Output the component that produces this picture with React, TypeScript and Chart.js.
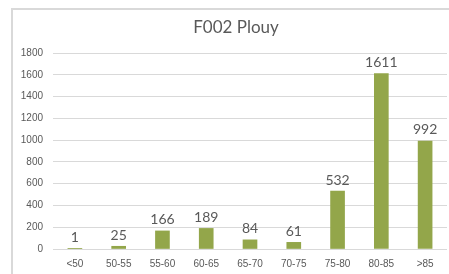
import React, { useEffect, useRef } from "react";
import { Chart, registerables } from "chart.js";

Chart.register(...registerables);

const title = "F002 Plouy";
const categories = ["<50", "50-55", "55-60", "60-65", "65-70", "70-75", "75-80", "80-85", ">85"];
const values = [1, 25, 166, 189, 84, 61, 532, 1611, 992];
const yTicks = [0, 200, 400, 600, 800, 1000, 1200, 1400, 1600, 1800];

const barColor = "#93a64a";
const textColor = "#595959";

const framePlugin = {
  id: "frame",
  beforeDraw(chart: any) {
    const ctx = chart.ctx;
    ctx.save();
    ctx.strokeStyle = "#d9d9d9";
    ctx.lineWidth = 2;
    ctx.beginPath();
    ctx.moveTo(12, 274);
    ctx.lineTo(12, 9);
    ctx.lineTo(449, 9);
    ctx.stroke();
    ctx.fillStyle = textColor;
    ctx.font = "17px Lato";
    ctx.textAlign = "center";
    ctx.textBaseline = "middle";
    ctx.fillText(title, 236, 28);
    ctx.restore();
  },
};

const labelPlugin = {
  id: "barLabels",
  afterDatasetsDraw(chart: any) {
    const ctx = chart.ctx;
    const meta = chart.getDatasetMeta(0);
    ctx.save();
    ctx.fillStyle = textColor;
    ctx.font = "14px Lato";
    ctx.textAlign = "center";
    ctx.textBaseline = "bottom";
    meta.data.forEach((bar: any, i: number) => {
      ctx.fillText(String(values[i]), bar.x, bar.y - 4);
    });
    ctx.restore();
  },
};

export default function App() {
  const ref = useRef<HTMLCanvasElement>(null);
  useEffect(() => {
    if (!ref.current) return;
    const chart = new Chart(ref.current, {
      type: "bar",
      data: {
        labels: categories,
        datasets: [
          {
            data: values,
            backgroundColor: barColor,
            barThickness: 14,
          },
        ],
      },
      plugins: [framePlugin, labelPlugin],
      options: {
        animation: false,
        responsive: false,
        devicePixelRatio: 1,
        layout: { padding: { top: 53, right: 2, left: 0, bottom: 0 } },
        plugins: {
          legend: { display: false },
          title: { display: false },
          tooltip: { enabled: false },
        },
        scales: {
          x: {
            grid: { display: false, drawTicks: false },
            border: { display: false },
            ticks: {
              color: textColor,
              font: { family: "Liberation Sans", size: 10 },
              padding: 9,
              maxRotation: 0,
              autoSkip: false,
            },
            afterFit(scale: any) {
              scale.height = 25;
            },
          },
          y: {
            min: 0,
            max: 1800,
            afterBuildTicks(scale: any) {
              scale.ticks = yTicks.map((v) => ({ value: v }));
            },
            grid: { color: "#d9d9d9", lineWidth: 1, drawTicks: false },
            border: { display: false },
            ticks: {
              color: textColor,
              font: { family: "Liberation Sans", size: 10 },
              padding: 10,
              callback: (v: any) => String(v),
            },
            afterFit(scale: any) {
              scale.width = 53;
            },
          },
        },
      },
    });
    return () => chart.destroy();
  }, []);
  return (
    <div style={{ position: "fixed", left: 0, top: 0, width: 449, height: 274, background: "#fff" }}>
      <canvas ref={ref} width={449} height={274} style={{ width: 449, height: 274 }} />
    </div>
  );
}
